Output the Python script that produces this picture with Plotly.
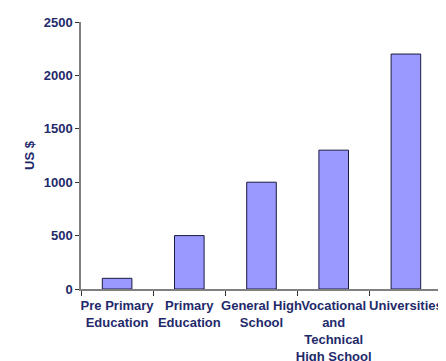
import plotly.graph_objects as go

categories = ["Pre Primary<br>Education", "Primary<br>Education", "General High<br>School",
              "Vocational<br>and<br>Technical<br>High School", "Universities"]
values = [100, 500, 1000, 1300, 2200]
y_ticks = [0, 500, 1000, 1500, 2000, 2500]

txt = "#1F2A6B"
fnt = dict(family="Liberation Sans, Arial", size=13, color=txt, weight="bold")
fig = go.Figure(go.Bar(
    x=categories, y=values,
    marker=dict(color="#9999FF", line=dict(color="#1A1A40", width=1)),
))
fig.update_layout(
    width=446, height=361,
    margin=dict(l=73, r=12, t=14, b=80),
    paper_bgcolor="white", plot_bgcolor="white",
    bargap=0.59, showlegend=False,
    font=dict(family="Liberation Sans, Arial", size=13, color=txt),
)
fig.update_xaxes(
    showline=True, linecolor="#808080", linewidth=1.5,
    ticks="outside", ticklen=5, tickcolor="#333333",
    tickson="boundaries", showgrid=False, tickangle=0, automargin=False,
    ticklabelstandoff=4,
    tickfont=fnt,
)
fig.update_yaxes(
    range=[0, 2500], tickvals=y_ticks,
    showline=True, linecolor="#808080", linewidth=1.5,
    ticks="outside", ticklen=4, tickcolor="#333333",
    showgrid=False, zeroline=False, automargin=False,
    tickfont=fnt,
    title=dict(text="US $", standoff=6, font=fnt),
)
fig.write_html("out.html")
